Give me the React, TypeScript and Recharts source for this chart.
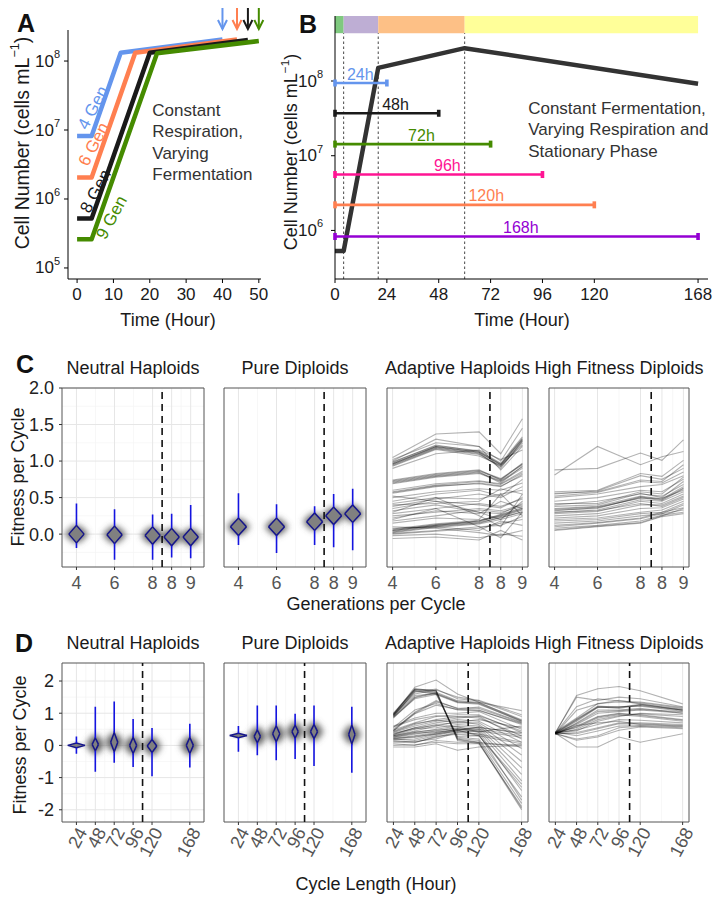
import React from "react";
import {
  ComposedChart,
  Line,
  Area,
  Scatter,
  XAxis,
  YAxis,
  CartesianGrid,
  ReferenceLine,
  ReferenceArea,
} from "recharts";

const FONT = '"Liberation Sans", Arial, Helvetica, sans-serif';

// ---------- panel A: growth curves, constant respiration ----------
const genNames = ["4 Gen", "6 Gen", "8 Gen", "9 Gen"];
const genColors = ["#6495ED", "#FF7F50", "#1a1a1a", "#458B00"];
const gen4Hours = [0, 4, 12, 40];
const gen4Cells = [8.2e6, 8.2e6, 1.32e8, 2.06e8];
const gen6Hours = [0, 4, 16, 44];
const gen6Cells = [2.05e6, 2.05e6, 1.32e8, 2.06e8];
const gen8Hours = [0, 4, 20, 47];
const gen8Cells = [5.2e5, 5.2e5, 1.32e8, 2.02e8];
const gen9Hours = [0, 4, 22, 50];
const gen9Cells = [2.6e5, 2.6e5, 1.3e8, 1.95e8];
const genLabelHours = [4.4, 4.6, 5.1, 9.5];
const genLabelCells = [2.1e7, 6.2e6, 1.3e6, 5.4e5];
const aHourTicks = [0, 10, 20, 30, 40, 50];
const aCellTicks = [1e5, 1e6, 1e7, 1e8];
const aNote = ["Constant", "Respiration,", "Varying", "Fermentation"];

// ---------- panel B: cycle lengths ----------
const bHourTicks = [0, 24, 48, 72, 96, 120, 168];
const bCellTicks = [1e6, 1e7, 1e8];
const bCurveHours = [0, 4, 20, 60, 168];
const bCurveCells = [5.3e5, 5.3e5, 1.5e8, 2.75e8, 9.2e7];
const phaseStart = [0, 4, 20, 60];
const phaseEnd = [4, 20, 60, 168];
const phaseColors = ["#7FC97F", "#BEAED4", "#FDC086", "#FFFF99"];
const cycleNames = ["24h", "48h", "72h", "96h", "120h", "168h"];
const cycleHours = [24, 48, 72, 96, 120, 168];
const cycleCells = [9.4e7, 3.7e7, 1.43e7, 5.6e6, 2.2e6, 8.3e5];
const cycleLabelHours = [11.7, 28, 40, 52, 70, 86];
const cycleColors = ["#6495ED", "#1a1a1a", "#458B00", "#FF1493", "#FF7F50", "#9400D3"];
const bNote = ["Constant Fermentation,", "Varying Respiration and", "Stationary Phase"];

// ---------- panel C: generations per cycle ----------
const genPos = [4, 6, 8, 9, 10];
const genTickLabels = ["4", "6", "8", "8", "9"];
const genMinor = [5, 7, 8.5, 9.5];
const fitTicksC = [0, 0.5, 1, 1.5, 2];
const fitLabelsC = ["0.0", "0.5", "1.0", "1.5", "2.0"];
const fitMinorC = [-0.25, 0.25, 0.75, 1.25, 1.75];

const neutralGenMid = [0.0, -0.01, -0.02, -0.04, -0.04];
const neutralGenLo = [-0.19, -0.35, -0.35, -0.32, -0.33];
const neutralGenHi = [0.42, 0.34, 0.27, 0.28, 0.4];
const neutralGenHalfH = [0.12, 0.12, 0.12, 0.12, 0.12];
const neutralGenHalfW = [0.4, 0.4, 0.4, 0.4, 0.4];
const diploidGenMid = [0.1, 0.1, 0.17, 0.25, 0.28];
const diploidGenLo = [-0.15, -0.26, -0.15, -0.18, -0.22];
const diploidGenHi = [0.56, 0.41, 0.38, 0.55, 0.62];
const diploidGenHalfH = [0.12, 0.12, 0.12, 0.12, 0.12];
const diploidGenHalfW = [0.42, 0.42, 0.42, 0.42, 0.42];
const haloGenH = [0.12, 0.12, 0.12, 0.12, 0.12];
const haloGenW = [0.62, 0.62, 0.62, 0.62, 0.62];

const adaptiveGen: number[][] = [
  [1.05, 1.37, 1.4, 1.1, 1.58],
  [0.97, 1.2, 1.12, 0.95, 1.3],
  [0.95, 1.18, 1.1, 0.93, 1.27],
  [0.98, 1.22, 1.13, 0.96, 1.31],
  [0.94, 1.17, 1.09, 0.92, 1.25],
  [0.96, 1.19, 1.11, 0.9, 1.28],
  [0.99, 1.21, 1.14, 0.97, 1.33],
  [0.93, 1.16, 1.07, 0.94, 1.22],
  [0.96, 1.2, 1.12, 0.95, 1.29],
  [1.0, 1.3, 1.2, 1.0, 1.45],
  [0.9, 1.1, 1.15, 1.02, 1.15],
  [1.02, 1.25, 1.2, 0.88, 1.2],
  [0.72, 0.81, 0.86, 0.75, 0.95],
  [0.7, 0.79, 0.84, 0.73, 0.92],
  [0.73, 0.82, 0.87, 0.76, 0.96],
  [0.69, 0.78, 0.83, 0.72, 0.9],
  [0.71, 0.8, 0.85, 0.7, 0.93],
  [0.74, 0.83, 0.88, 0.74, 0.97],
  [0.58, 0.67, 0.72, 0.68, 0.84],
  [0.56, 0.65, 0.7, 0.66, 0.8],
  [0.6, 0.69, 0.73, 0.69, 0.86],
  [0.57, 0.66, 0.69, 0.65, 0.82],
  [0.5, 0.58, 0.62, 0.6, 0.7],
  [0.45, 0.55, 0.6, 0.52, 0.75],
  [0.42, 0.5, 0.48, 0.55, 0.6],
  [0.38, 0.48, 0.55, 0.5, 0.65],
  [0.35, 0.45, 0.4, 0.36, 0.5],
  [0.32, 0.4, 0.3, 0.2, 0.45],
  [0.3, 0.5, 0.25, 0.1, 0.55],
  [0.28, 0.35, 0.42, 0.38, 0.48],
  [0.25, 0.3, 0.35, 0.32, 0.4],
  [0.22, 0.32, 0.28, 0.45, 0.35],
  [0.18, 0.25, 0.33, 0.3, 0.38],
  [0.2, 0.35, 0.1, -0.05, 0.3],
  [0.15, 0.22, 0.2, 0.55, 0.25],
  [0.52, 0.45, 0.3, 0.28, 0.42],
  [0.4, 0.42, 0.45, 0.62, 0.55],
  [0.05, 0.12, 0.17, 0.24, 0.33],
  [0.04, 0.11, 0.16, 0.22, 0.31],
  [0.06, 0.13, 0.18, 0.26, 0.35],
  [0.03, 0.1, 0.15, 0.23, 0.3],
  [0.07, 0.14, 0.19, 0.25, 0.34],
  [0.05, 0.12, 0.18, 0.27, 0.36],
  [0.02, 0.09, 0.14, 0.2, 0.28],
  [0.01, 0.05, 0.1, 0.12, 0.24],
  [0.0, 0.04, 0.08, 0.15, 0.2],
  [0.08, 0.1, 0.05, 0.18, 0.12],
  [-0.06, -0.04, -0.08, 0.05, -0.08],
  [-0.02, 0.0, -0.05, 0.0, -0.03],
  [0.1, 0.08, 0.02, -0.02, 0.05],
];

const highFitGen: number[][] = [
  [0.88, 0.9, 1.11, 1.01, 1.29],
  [0.81, 1.2, 0.95, 1.06, 1.13],
  [0.58, 0.6, 0.83, 0.79, 1.01],
  [0.56, 0.58, 0.74, 0.72, 0.95],
  [0.55, 0.59, 0.8, 0.75, 0.9],
  [0.52, 0.57, 0.72, 0.7, 0.85],
  [0.5, 0.55, 0.65, 0.68, 0.8],
  [0.45, 0.5, 0.6, 0.58, 0.75],
  [0.4, 0.45, 0.55, 0.52, 0.68],
  [0.35, 0.38, 0.52, 0.48, 0.65],
  [0.33, 0.35, 0.51, 0.47, 0.63],
  [0.32, 0.36, 0.5, 0.46, 0.62],
  [0.34, 0.37, 0.49, 0.49, 0.6],
  [0.3, 0.33, 0.47, 0.45, 0.58],
  [0.28, 0.31, 0.45, 0.42, 0.55],
  [0.25, 0.28, 0.4, 0.4, 0.52],
  [0.22, 0.25, 0.35, 0.36, 0.48],
  [0.2, 0.22, 0.3, 0.33, 0.45],
  [0.18, 0.2, 0.28, 0.3, 0.42],
  [0.15, 0.18, 0.25, 0.28, 0.4],
  [0.12, 0.16, 0.22, 0.3, 0.36],
  [0.1, 0.15, 0.21, 0.28, 0.33],
  [0.08, 0.12, 0.18, 0.26, 0.3],
  [0.05, 0.1, 0.15, 0.24, 0.28],
  [0.06, 0.11, 0.16, 0.25, 0.35],
  [0.38, 0.4, 0.56, 0.5, 0.72],
  [0.42, 0.42, 0.58, 0.55, 0.78],
  [0.3, 0.32, 0.42, 0.38, 0.5],
];

// ---------- panel D: cycle length ----------
const hourPos = [24, 48, 72, 96, 120, 168];
const hourMinor = [36, 60, 84, 108, 144];
const fitTicksD = [-2, -1, 0, 1, 2];
const fitLabelsD = ["-2", "-1", "0", "1", "2"];
const fitMinorD = [-1.5, -0.5, 0.5, 1.5];

const neutralHrMid = [0.0, 0.03, 0.1, 0.0, -0.02, 0.0];
const neutralHrLo = [-0.26, -0.82, -0.54, -0.67, -0.96, -0.69];
const neutralHrHi = [0.28, 1.2, 1.36, 0.82, 0.54, 0.67];
const neutralHrHalfH = [0.07, 0.2, 0.3, 0.25, 0.2, 0.25];
const neutralHrHalfW = [11, 4, 4.5, 4.5, 6, 4.5];
const diploidHrMid = [0.31, 0.28, 0.36, 0.43, 0.43, 0.34];
const diploidHrLo = [-0.2, -0.31, -0.46, -0.42, -0.64, -0.85];
const diploidHrHi = [0.6, 1.24, 1.24, 0.98, 1.24, 1.2];
const diploidHrHalfH = [0.07, 0.2, 0.25, 0.2, 0.22, 0.3];
const diploidHrHalfW = [11, 4, 4.5, 4, 4.5, 4];
const haloHrH = [0.05, 0.3, 0.3, 0.3, 0.3, 0.3];
const haloHrW = [6, 12, 12, 12, 12, 12];

const adaptiveHr: number[][] = [
  [0.95, 1.81, 2.03, 1.6, 1.34, 1.08],
  [1.0, 1.76, 1.7, 0.2, 0.1, -1.95],
  [0.98, 1.74, 1.68, 0.22, 0.15, -1.8],
  [0.96, 1.72, 1.66, 0.18, 0.08, -2.0],
  [0.93, 1.7, 1.62, 0.25, 0.2, -1.6],
  [0.9, 1.68, 1.6, 0.28, 0.3, -1.3],
  [0.97, 1.75, 1.71, 0.15, 0.05, -1.9],
  [0.88, 1.5, 1.65, 1.39, 1.34, 0.77],
  [0.85, 1.48, 1.62, 1.36, 1.3, 0.74],
  [0.9, 1.55, 1.6, 1.35, 1.32, 0.8],
  [0.87, 1.45, 1.58, 1.33, 1.28, 0.76],
  [0.95, 1.6, 1.72, 1.5, 1.4, 0.95],
  [0.92, 1.65, 1.75, 1.45, 1.38, 0.9],
  [0.46, 1.03, 1.39, 1.14, 1.19, 0.72],
  [0.5, 1.0, 1.35, 1.16, 1.15, 0.7],
  [0.55, 1.1, 1.3, 1.1, 1.1, 0.65],
  [0.45, 0.98, 1.25, 1.12, 1.08, 0.68],
  [0.6, 0.85, 1.0, 1.0, 1.05, 0.5],
  [0.48, 0.7, 0.9, 0.95, 0.95, 0.4],
  [0.42, 0.65, 0.8, 0.9, 0.85, 0.3],
  [0.4, 0.6, 0.75, 0.85, 0.9, 0.2],
  [0.35, 0.55, 0.7, 0.8, 0.75, 0.1],
  [0.32, 0.5, 0.65, 0.7, 0.7, -0.1],
  [0.3, 0.45, 0.6, 0.75, 0.65, -0.3],
  [0.38, 0.52, 0.55, 0.65, 0.6, -0.5],
  [0.28, 0.4, 0.5, 0.6, 0.55, -0.7],
  [0.25, 0.35, 0.45, 0.55, 0.5, -0.9],
  [0.22, 0.3, 0.4, 0.5, 0.45, -1.1],
  [0.3, 0.42, 0.48, 0.52, 0.4, -1.4],
  [0.2, 0.28, 0.35, 0.45, 0.35, -1.7],
  [0.26, 0.38, 0.42, 0.48, 0.3, -1.2],
  [0.34, 0.55, 0.62, 0.58, 0.42, 0.6],
  [0.44, 0.68, 0.78, 0.72, 0.8, 0.55],
  [0.58, 0.8, 0.92, 0.88, 0.92, 0.45],
  [0.2, 0.15, 0.31, 0.46, 0.57, 0.36],
  [0.18, 0.2, 0.35, 0.48, 0.5, 0.3],
  [0.15, 0.1, 0.25, 0.42, 0.45, 0.25],
  [0.22, 0.25, 0.38, 0.5, 0.55, 0.4],
  [0.12, 0.12, 0.2, 0.4, 0.35, 0.1],
  [0.1, 0.08, 0.28, 0.35, 0.3, 0.05],
  [-0.05, -0.05, 0.05, -0.15, -0.05, 0.0],
  [0.0, 0.02, 0.1, 0.05, 0.05, 0.02],
  [0.05, 0.0, 0.15, 0.1, 0.1, -0.05],
];

const highFitHr: number[][] = [
  [0.38, 1.55, 1.76, 1.83, 1.7, 1.29],
  [0.4, 1.5, 1.4, 1.5, 1.45, 1.2],
  [0.36, 1.09, 1.29, 1.4, 1.29, 1.09],
  [0.38, 0.78, 1.19, 1.19, 1.24, 1.09],
  [0.39, 0.8, 1.2, 1.15, 1.26, 1.1],
  [0.37, 0.75, 1.18, 1.2, 1.22, 1.06],
  [0.4, 0.82, 1.22, 1.18, 1.28, 1.12],
  [0.35, 0.7, 1.1, 1.1, 1.15, 1.0],
  [0.38, 0.57, 0.88, 0.98, 0.93, 0.78],
  [0.36, 0.6, 0.9, 1.0, 0.95, 0.8],
  [0.4, 0.55, 0.85, 0.95, 0.9, 0.75],
  [0.37, 0.5, 0.8, 0.92, 0.98, 0.9],
  [0.39, 0.45, 0.75, 0.9, 1.0, 0.95],
  [0.38, 0.36, 0.52, 0.67, 0.67, 0.62],
  [0.35, 0.4, 0.55, 0.7, 0.7, 0.65],
  [0.41, 0.3, 0.45, 0.6, 0.62, 0.58],
  [0.38, -0.05, -0.05, 0.26, 0.1, 0.36],
  [0.37, 0.16, 0.26, 0.47, 0.57, 0.52],
  [0.36, 0.2, 0.3, 0.55, 0.6, 0.55],
  [0.4, 0.65, 1.0, 1.05, 1.1, 1.0],
  [0.34, 0.68, 1.05, 1.08, 1.12, 1.04],
  [0.42, 0.85, 1.3, 1.35, 1.32, 1.15],
  [0.38, 1.2, 1.45, 1.38, 1.35, 1.18],
  [0.36, 0.62, 0.7, 0.75, 0.65, 0.6],
  [0.4, 0.48, 0.65, 0.8, 0.78, 0.7],
];

const facetTitles = ["Neutral Haploids", "Pure Diploids", "Adaptive Haploids", "High Fitness Diploids"];
const facetLeft = [62, 224, 387, 549];
const facetWidth = [142, 142, 141, 140];

// ---------- helpers ----------
const toPoints = (xs: number[], ys: number[]) => xs.map((x, i) => ({ x, y: ys[i] }));

const toRows = (xs: number[], lines: number[][]) =>
  xs.map((x, i) => {
    const r: Record<string, number> = { x };
    lines.forEach((l, j) => {
      r["l" + j] = l[i];
    });
    return r;
  });

const PowTick = (p: any) => (
  <text x={p.x} y={p.y} textAnchor="end" dominantBaseline="central" fontSize={17} fill="#1a1a1a" fontFamily={FONT}>
    10
    <tspan dy={-7} fontSize={11}>
      {Math.round(Math.log10(p.payload.value))}
    </tspan>
  </text>
);

const SlantTick = (p: any) => {
  const x = p.x + 6;
  const y = p.y + 2;
  return (
    <text x={x} y={y} transform={`rotate(-62 ${x} ${y})`} textAnchor="end" dominantBaseline="central" fontSize={18} fill="#555" fontFamily={FONT}>
      {p.payload.value}
    </text>
  );
};

function violins(
  pos: number[], mid: number[], lo: number[], hi: number[],
  halfH: number[], halfW: number[], haloH: number[], haloW: number[],
) {
  const halos = pos.map((x, i) => (
    <Area
      key={"halo" + i}
      data={[
        { x: x - haloW[i], v: [mid[i], mid[i]] },
        { x, v: [mid[i] - haloH[i], mid[i] + haloH[i]] },
        { x: x + haloW[i], v: [mid[i], mid[i]] },
      ]}
      dataKey="v"
      type="monotone"
      stroke="none"
      fill="#5e5e5e"
      fillOpacity={0.95}
      filter="url(#fuzz)"
      isAnimationActive={false}
    />
  ));
  const bodies = pos.map((x, i) => (
    <Area
      key={"body" + i}
      data={[
        { x: x - halfW[i], v: [mid[i], mid[i]] },
        { x, v: [mid[i] - halfH[i], mid[i] + halfH[i]] },
        { x: x + halfW[i], v: [mid[i], mid[i]] },
      ]}
      dataKey="v"
      type="linear"
      stroke="#16168a"
      strokeWidth={1.5}
      fill="#808080"
      fillOpacity={1}
      isAnimationActive={false}
    />
  ));
  const whiskers = pos.map((x, i) => (
    <Line
      key={"wh" + i}
      data={[
        { x, y: hi[i] },
        { x, y: mid[i] + halfH[i] },
        { x, y: null },
        { x, y: mid[i] - halfH[i] },
        { x, y: lo[i] },
      ]}
      dataKey="y"
      stroke="#1414e0"
      strokeWidth={1.6}
      dot={false}
      isAnimationActive={false}
    />
  ));
  return [...halos, ...bodies, ...whiskers];
}

function traces(lines: number[][]) {
  return lines.map((_, j) => (
    <Line
      key={"l" + j}
      dataKey={"l" + j}
      stroke="#000"
      strokeOpacity={0.3}
      strokeWidth={1.1}
      dot={false}
      isAnimationActive={false}
    />
  ));
}

type FacetProps = {
  left: number;
  top: number;
  w: number;
  h: number;
  xDomain: [number, number];
  yDomain: [number, number];
  xTicks: number[];
  xLabels: string[];
  xMinor: number[];
  yTicks: number[];
  yLabels: string[];
  yMinor: number[];
  showY: boolean;
  slant?: boolean;
  cut: number;
  rows?: any[];
  children?: React.ReactNode;
};

const YW = 46;
const XH = 52;
const MT = 12;
const MR = 16;

function Facet(p: FacetProps) {
  const xFmt = (v: number) => p.xLabels[p.xTicks.indexOf(v)] ?? "";
  const yFmt = (v: number) => p.yLabels[p.yTicks.indexOf(v)] ?? "";
  return (
    <div style={{ position: "absolute", left: p.left - YW, top: p.top - MT }}>
      <ComposedChart
        width={YW + p.w + MR}
        height={MT + p.h + XH}
        data={p.rows}
        margin={{ top: MT, right: MR, bottom: 0, left: 0 }}
      >
        <CartesianGrid horizontalValues={p.yMinor} verticalValues={p.xMinor} stroke="#F3F3F3" strokeWidth={0.7} />
        <CartesianGrid horizontalValues={p.yTicks} verticalValues={p.xTicks} stroke="#E6E6E6" strokeWidth={1} />
        <XAxis
          type="number"
          dataKey="x"
          domain={p.xDomain}
          allowDataOverflow
          ticks={p.xTicks}
          interval={0}
          tickFormatter={xFmt}
          height={XH}
          axisLine={false}
          tickSize={3}
          tickMargin={p.slant ? 2 : 6}
          tickLine={{ stroke: "#333" }}
          tick={p.slant ? <SlantTick /> : { fill: "#555", fontSize: 18, fontFamily: FONT }}
        />
        <YAxis
          type="number"
          dataKey="y"
          domain={p.yDomain}
          allowDataOverflow
          ticks={p.yTicks}
          interval={0}
          tickFormatter={yFmt}
          width={YW}
          axisLine={false}
          tickSize={3}
          tickMargin={5}
          tickLine={{ stroke: "#333" }}
          tick={p.showY ? { fill: "#222", fontSize: 18, fontFamily: FONT } : false}
        />
        {p.children}
        <ReferenceLine x={p.cut} stroke="#111" strokeWidth={1.6} strokeDasharray="7 5" />
        <ReferenceArea
          x1={p.xDomain[0]}
          x2={p.xDomain[1]}
          y1={p.yDomain[0]}
          y2={p.yDomain[1]}
          fill="none"
          stroke="#555"
          strokeWidth={1}
        />
      </ComposedChart>
    </div>
  );
}

// ---------- panel A ----------
function PanelA() {
  const series = [
    toPoints(gen4Hours, gen4Cells),
    toPoints(gen6Hours, gen6Cells),
    toPoints(gen8Hours, gen8Cells),
    toPoints(gen9Hours, gen9Cells),
  ];
  const yMin = 10 ** 4.84;
  const yMax = 10 ** 8.45;
  const ends = [gen4Hours[3], gen6Hours[3], gen8Hours[3], gen9Hours[3]];
  return (
    <div style={{ position: "absolute", left: 0, top: 0 }}>
      <ComposedChart width={280} height={330} margin={{ top: 30, right: 19, bottom: 0, left: 0 }}>
        <XAxis
          type="number"
          dataKey="x"
          domain={[-2.5, 50.6]}
          ticks={aHourTicks}
          interval={0}
          height={51}
          tickSize={4}
          tickMargin={5}
          stroke="#000"
          tick={{ fill: "#1a1a1a", fontSize: 17, fontFamily: FONT }}
        />
        <YAxis
          type="number"
          dataKey="y"
          scale="log"
          domain={[yMin, yMax]}
          ticks={aCellTicks}
          interval={0}
          width={68}
          tickSize={4}
          tickMargin={4}
          stroke="#000"
          tick={<PowTick />}
        />
        {series.map((d, i) => (
          <Line
            key={genNames[i]}
            data={d}
            dataKey="y"
            stroke={genColors[i]}
            strokeWidth={4.5}
            strokeLinejoin="round"
            dot={false}
            isAnimationActive={false}
          />
        ))}
        {ends.map((h, i) => (
          <Scatter
            key={"arrow" + i}
            data={[{ x: h, y: yMax }]}
            fill={genColors[i]}
            isAnimationActive={false}
            shape={(s: any) => (
              <g stroke={s.fill} strokeWidth={2} fill="none">
                <line x1={s.cx} x2={s.cx} y1={s.cy - 22} y2={s.cy - 1} />
                <path d={`M${s.cx - 4.5},${s.cy - 10} L${s.cx},${s.cy - 1} L${s.cx + 4.5},${s.cy - 10}`} />
              </g>
            )}
          />
        ))}
        {genNames.map((name, i) => (
          <Scatter
            key={"lab" + i}
            data={[{ x: genLabelHours[i], y: genLabelCells[i], label: name }]}
            fill={genColors[i]}
            isAnimationActive={false}
            shape={(s: any) => (
              <text
                x={s.cx}
                y={s.cy}
                transform={`rotate(-62 ${s.cx} ${s.cy})`}
                textAnchor="middle"
                dominantBaseline="central"
                fill={s.fill}
                fontSize={17}
                fontFamily={FONT}
              >
                {s.payload.label}
              </text>
            )}
          />
        ))}
        <Scatter
          data={[{ x: 20.7, y: 10 ** 7.29, lines: aNote }]}
          isAnimationActive={false}
          shape={(s: any) => (
            <text x={s.cx} y={s.cy} fill="#333" fontSize={17} fontFamily={FONT} dominantBaseline="central">
              {s.payload.lines.map((t: string, k: number) => (
                <tspan key={k} x={s.cx} dy={k === 0 ? 0 : 21.3}>
                  {t}
                </tspan>
              ))}
            </text>
          )}
        />
      </ComposedChart>
    </div>
  );
}

// ---------- panel B ----------
function PanelB() {
  const yMin = 10 ** 5.35;
  const yMax = 10 ** 8.87;
  const bandLow = 10 ** 8.64;
  return (
    <div style={{ position: "absolute", left: 280, top: 0 }}>
      <ComposedChart width={442} height={330} margin={{ top: 16, right: 14, bottom: 0, left: 0 }}>
        <XAxis
          type="number"
          dataKey="x"
          domain={[0, 172.6]}
          ticks={bHourTicks}
          interval={0}
          height={51}
          tickSize={4}
          tickMargin={5}
          stroke="#000"
          tick={{ fill: "#1a1a1a", fontSize: 17, fontFamily: FONT }}
        />
        <YAxis
          type="number"
          dataKey="y"
          scale="log"
          domain={[yMin, yMax]}
          ticks={bCellTicks}
          interval={0}
          width={55}
          tickSize={4}
          tickMargin={8}
          stroke="#000"
          tick={<PowTick />}
        />
        {phaseStart.map((s, i) => (
          <ReferenceArea
            key={"ph" + i}
            x1={s}
            x2={phaseEnd[i]}
            y1={bandLow}
            y2={yMax}
            fill={phaseColors[i]}
            fillOpacity={1}
            stroke="none"
          />
        ))}
        {phaseEnd.slice(0, 3).map((e) => (
          <ReferenceLine
            key={"div" + e}
            segment={[
              { x: e, y: yMin },
              { x: e, y: bandLow },
            ]}
            stroke="#333"
            strokeWidth={0.9}
            strokeDasharray="2.5 2.5"
          />
        ))}
        <Line
          data={toPoints(bCurveHours, bCurveCells)}
          dataKey="y"
          stroke="#333"
          strokeWidth={4.5}
          strokeLinejoin="round"
          dot={false}
          isAnimationActive={false}
        />
        {cycleHours.map((h, i) => (
          <Line
            key={cycleNames[i]}
            data={[
              { x: 0, y: cycleCells[i] },
              { x: h, y: cycleCells[i] },
            ]}
            dataKey="y"
            stroke={cycleColors[i]}
            strokeWidth={2.6}
            isAnimationActive={false}
            dot={(d: any) => (
              <rect key={d.index} x={d.cx - 1.8} y={d.cy - 3.5} width={3.6} height={7} fill={cycleColors[i]} />
            )}
          />
        ))}
        {cycleNames.map((name, i) => (
          <Scatter
            key={"cl" + i}
            data={[{ x: cycleLabelHours[i], y: cycleCells[i], label: name }]}
            fill={cycleColors[i]}
            isAnimationActive={false}
            shape={(s: any) => (
              <text x={s.cx} y={s.cy - 9} textAnchor="middle" dominantBaseline="central" fill={s.fill} fontSize={16} fontFamily={FONT}>
                {s.payload.label}
              </text>
            )}
          />
        ))}
        <Scatter
          data={[{ x: 89.4, y: 10 ** 7.64, lines: bNote }]}
          isAnimationActive={false}
          shape={(s: any) => (
            <text x={s.cx} y={s.cy} fill="#333" fontSize={17} fontFamily={FONT} dominantBaseline="central">
              {s.payload.lines.map((t: string, k: number) => (
                <tspan key={k} x={s.cx} dy={k === 0 ? 0 : 21.5}>
                  {t}
                </tspan>
              ))}
            </text>
          )}
        />
      </ComposedChart>
    </div>
  );
}

// ---------- panels C and D ----------
function PanelC() {
  const top = 388;
  const h = 179;
  const yDomain: [number, number] = [-0.45, 2.0];
  const common = {
    top,
    h,
    yDomain,
    xTicks: genPos,
    xLabels: genTickLabels,
    xMinor: genMinor,
    yTicks: fitTicksC,
    yLabels: fitLabelsC,
    yMinor: fitMinorC,
    cut: 8.5,
  };
  return (
    <>
      <Facet {...common} left={facetLeft[0]} w={facetWidth[0]} xDomain={[3.24, 10.7]} showY>
        {violins(genPos, neutralGenMid, neutralGenLo, neutralGenHi, neutralGenHalfH, neutralGenHalfW, haloGenH, haloGenW)}
      </Facet>
      <Facet {...common} left={facetLeft[1]} w={facetWidth[1]} xDomain={[3.24, 10.7]} showY={false}>
        {violins(genPos, diploidGenMid, diploidGenLo, diploidGenHi, diploidGenHalfH, diploidGenHalfW, haloGenH, haloGenW)}
      </Facet>
      <Facet {...common} left={facetLeft[2]} w={facetWidth[2]} xDomain={[3.74, 10.26]} showY={false} rows={toRows(genPos, adaptiveGen)}>
        {traces(adaptiveGen)}
      </Facet>
      <Facet {...common} left={facetLeft[3]} w={facetWidth[3]} xDomain={[3.74, 10.26]} showY={false} rows={toRows(genPos, highFitGen)}>
        {traces(highFitGen)}
      </Facet>
    </>
  );
}

function PanelD() {
  const top = 663;
  const h = 159;
  const yDomain: [number, number] = [-2.38, 2.56];
  const common = {
    top,
    h,
    yDomain,
    xTicks: hourPos,
    xLabels: hourPos.map(String),
    xMinor: hourMinor,
    yTicks: fitTicksD,
    yLabels: fitLabelsD,
    yMinor: fitMinorD,
    cut: 108,
    slant: true,
  };
  return (
    <>
      <Facet {...common} left={facetLeft[0]} w={facetWidth[0]} xDomain={[5.7, 186]} showY>
        {violins(hourPos, neutralHrMid, neutralHrLo, neutralHrHi, neutralHrHalfH, neutralHrHalfW, haloHrH, haloHrW)}
      </Facet>
      <Facet {...common} left={facetLeft[1]} w={facetWidth[1]} xDomain={[5.7, 186]} showY={false}>
        {violins(hourPos, diploidHrMid, diploidHrLo, diploidHrHi, diploidHrHalfH, diploidHrHalfW, haloHrH, haloHrW)}
      </Facet>
      <Facet {...common} left={facetLeft[2]} w={facetWidth[2]} xDomain={[16.8, 175.2]} showY={false} rows={toRows(hourPos, adaptiveHr)}>
        {traces(adaptiveHr)}
      </Facet>
      <Facet {...common} left={facetLeft[3]} w={facetWidth[3]} xDomain={[16.8, 175.2]} showY={false} rows={toRows(hourPos, highFitHr)}>
        {traces(highFitHr)}
      </Facet>
    </>
  );
}

function Texts() {
  const cellTitle = (x: number, y: number, size: number) => (
    <text x={x} y={y} transform={`rotate(-90 ${x} ${y})`} textAnchor="middle" dominantBaseline="central" fontSize={size} fill="#1a1a1a">
      Cell Number (cells mL
      <tspan dy={-7} fontSize={size * 0.65}>
        −1
      </tspan>
      <tspan dy={7}>)</tspan>
    </text>
  );
  return (
    <svg width={722} height={903} style={{ position: "absolute", left: 0, top: 0, pointerEvents: "none" }} fontFamily={FONT}>
      <defs>
        <filter id="fuzz" x="-60%" y="-60%" width="220%" height="220%">
          <feGaussianBlur stdDeviation="3" />
        </filter>
      </defs>
      <g fontWeight="bold" fontSize={25} fill="#111">
        <text x={17} y={32}>A</text>
        <text x={299} y={33}>B</text>
        <text x={16} y={373}>C</text>
        <text x={15} y={652}>D</text>
      </g>
      {cellTitle(22, 143, 19.5)}
      {cellTitle(291, 152, 18)}
      <g fontSize={18} fill="#1a1a1a" textAnchor="middle" dominantBaseline="central">
        <text x={168} y={320}>Time (Hour)</text>
        <text x={522} y={320}>Time (Hour)</text>
        <text x={376} y={604}>Generations per Cycle</text>
        <text x={376} y={884}>Cycle Length (Hour)</text>
        <text x={18} y={477} transform="rotate(-90 18 477)">Fitness per Cycle</text>
        <text x={20} y={745} transform="rotate(-90 20 745)">Fitness per Cycle</text>
        {facetTitles.map((t, i) => (
          <text key={"tc" + i} x={facetLeft[i] + facetWidth[i] / 2} y={368}>
            {t}
          </text>
        ))}
        {facetTitles.map((t, i) => (
          <text key={"td" + i} x={facetLeft[i] + facetWidth[i] / 2} y={643}>
            {t}
          </text>
        ))}
      </g>
    </svg>
  );
}

export default function App() {
  return (
    <div
      style={{
        position: "absolute",
        left: 0,
        top: 0,
        width: 722,
        height: 903,
        background: "#fff",
        fontFamily: FONT,
        overflow: "hidden",
      }}
    >
      <Texts />
      <PanelA />
      <PanelB />
      <PanelC />
      <PanelD />
    </div>
  );
}
